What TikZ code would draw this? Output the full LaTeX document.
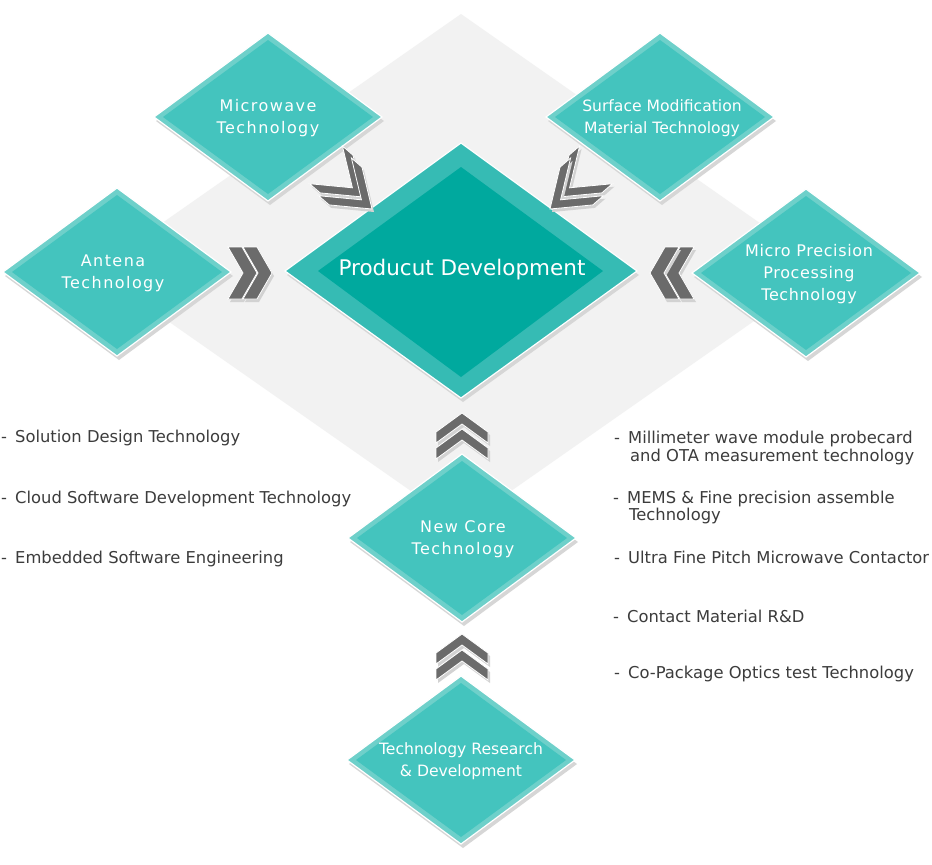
\documentclass[tikz,border=0pt]{standalone}
\usepackage{fontspec}
\setmainfont{DejaVu Sans}
\newfontfamily\lblfont[LetterSpace=9]{DejaVu Sans}
\newfontfamily\lblfontm[LetterSpace=4]{DejaVu Sans}
\definecolor{bgc}{HTML}{F2F2F2}
\definecolor{ringc}{HTML}{6ED0CA}
\definecolor{dfill}{HTML}{44C4BE}
\definecolor{pouter}{HTML}{36BBB4}
\definecolor{pinner}{HTML}{00A99E}
\definecolor{chc}{HTML}{6B6B6B}
\definecolor{chshadow}{HTML}{D2D2D2}
\definecolor{dshadow}{HTML}{D6D6D6}
\definecolor{itemc}{HTML}{3C3C3C}
\tikzset{
  lbl/.style={text=white, font=\lblfont\fontsize{16}{22}\selectfont, align=center, inner sep=0},
  lblm/.style={text=white, font=\lblfontm\fontsize{16}{22}\selectfont, align=center, inner sep=0},
  lbln/.style={text=white, font=\fontsize{15.6}{22}\selectfont, align=center, inner sep=0},
  ttl/.style={text=white, font=\fontsize{21.5}{26}\selectfont, inner sep=0},
  item/.style={text=itemc, font=\fontsize{16.35}{19}\selectfont, inner sep=0, anchor=base west},
}
% chevron: x y rotation depth halfwidth thickness
\newcommand\chev[6]{%
  \begin{scope}[shift={(#1+2,#2+3)},rotate=#3]
    \fill[chshadow] (-#4,-#5) -- (0,0) -- (-#4,#5) -- (-#4-#6,#5) -- (-#6,0) -- (-#4-#6,-#5) -- cycle;
  \end{scope}
  \begin{scope}[shift={(#1,#2)},rotate=#3]
    \filldraw[fill=chc, draw=white, line width=0.8pt] (-#4,-#5) -- (0,0) -- (-#4,#5) -- (-#4-#6,#5) -- (-#6,0) -- (-#4-#6,-#5) -- cycle;
  \end{scope}}
% small diamond: name x y style text-x-offset text
\newcommand\sdia[6]{%
  \begin{scope}[shift={(#2,#3)}]
    \fill[dshadow] (2,-80) -- (116,4) -- (2,88) -- (-112,4) -- cycle;
    \filldraw[fill=ringc, draw=white, line width=1.2pt] (0,-84) -- (114,0) -- (0,84) -- (-114,0) -- cycle;
    \fill[dfill] (0,-77) -- (105,0) -- (0,77) -- (-105,0) -- cycle;
  \end{scope}
  \node[#4] (#1) at (#2+#5,#3+1) {#6};}
\begin{document}
\begin{tikzpicture}[x=1pt,y=-1pt]
\useasboundingbox (0,0) rectangle (932,865);
\fill[white] (0,0) rectangle (932,865);
% background diamond
\fill[bgc] (461,14) -- (827,270) -- (461,526) -- (95,270) -- cycle;
% product diamond
\fill[dshadow] (463,147) -- (639,275) -- (463,402) -- (287,275) -- cycle;
\filldraw[fill=pouter, draw=white, line width=1.2pt] (461,143) -- (637,271) -- (461,398) -- (285,271) -- cycle;
\fill[pinner] (461,167) -- (603,271) -- (461,377) -- (318,271) -- cycle;
\node[ttl] (prod) at (462,270) {Producut Development};
% small diamonds
\sdia{mw}{268}{117}{lbl}{0}{Microwave\\Technology}
\sdia{sm}{660}{117}{lbln}{2}{Surface Modification\\Material Technology}
\sdia{an}{117}{272}{lbl}{-4}{Antena\\Technology}
\sdia{mp}{806}{273}{lblm}{3}{Micro Precision\\Processing\\Technology}
\sdia{nc}{462}{538}{lbl}{1}{New Core\\Technology}
\sdia{rd}{461}{760}{lbln}{0}{Technology Research\\\& Development}
% chevrons
\chev{257}{273}{0}{15}{26}{14}
\chev{272}{273}{0}{15}{26}{14}
\chev{665}{273}{180}{15}{26}{14}
\chev{650}{273}{180}{15}{26}{14}
\chev{462}{413}{90}{19}{26}{11}
\chev{462}{429}{90}{19}{26}{11}
\chev{462}{634}{90}{19}{26}{11}
\chev{462}{650}{90}{19}{26}{11}
\chev{363}{197}{-41}{35}{25}{14}
\chev{372}{209}{-41}{35}{25}{14}
\chev{559}{197}{-139}{35}{25}{14}
\chev{550}{209}{-139}{35}{25}{14}
% left list
\node[item] (l1) at (1,442) {\makebox[14pt][l]{-}Solution Design Technology};
\node[item] (l2) at (1,503) {\makebox[14pt][l]{-}Cloud Software Development Technology};
\node[item] (l3) at (1,563) {\makebox[14pt][l]{-}Embedded Software Engineering};
% right list
\node[item] (r1) at (614,443) {\makebox[14pt][l]{-}Millimeter wave module probecard};
\node[item] (r1b) at (630,461) {and OTA measurement technology};
\node[item] (r2) at (613,503) {\makebox[14pt][l]{-}MEMS \& Fine precision assemble};
\node[item] (r2b) at (629,520) {Technology};
\node[item] (r3) at (614,563) {\makebox[14pt][l]{-}Ultra Fine Pitch Microwave Contactor};
\node[item] (r4) at (613,622) {\makebox[14pt][l]{-}Contact Material R\&D};
\node[item] (r5) at (614,678) {\makebox[14pt][l]{-}Co-Package Optics test Technology};
\end{tikzpicture}
\end{document}
